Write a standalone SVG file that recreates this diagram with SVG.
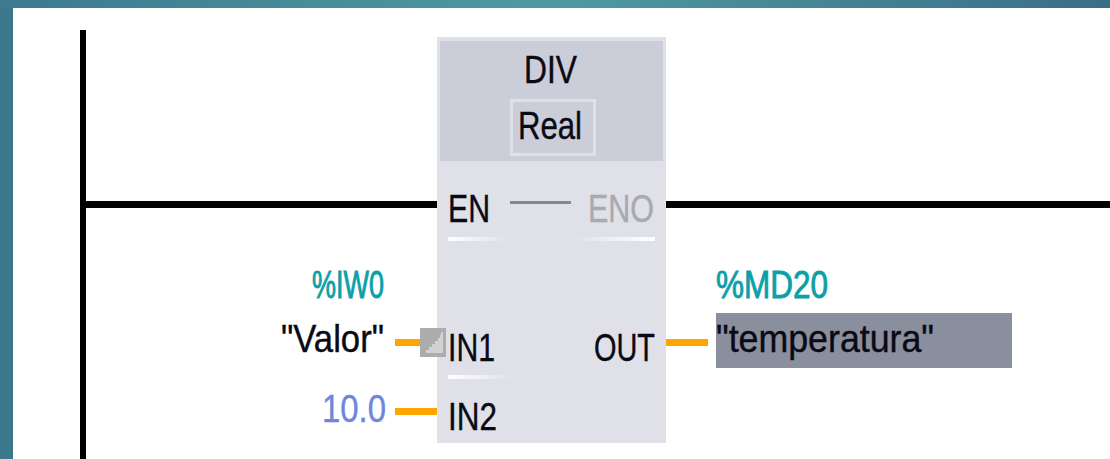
<svg xmlns="http://www.w3.org/2000/svg" width="1110" height="459" viewBox="0 0 1110 459">
<style>
text{font-family:"Liberation Sans",Arial,sans-serif;font-size:38px;fill:#0a0a14;stroke:#0a0a14;stroke-width:.4px}
.teal{fill:#0aa0a8;stroke:#0aa0a8;stroke-width:.9px}
.wire{fill:#000}
.or{fill:#ffa500}
</style>
<defs>
<linearGradient id="bg" x1="0" y1="0" x2="1" y2="0"><stop offset="0" stop-color="#3c7a8e"/><stop offset=".5" stop-color="#4f9aa2"/><stop offset="1" stop-color="#3a6e86"/></linearGradient>
<linearGradient id="fadeR" x1="0" y1="0" x2="1" y2="0"><stop offset="0" stop-color="#fff"/><stop offset="1" stop-color="#fff" stop-opacity="0"/></linearGradient>
<linearGradient id="fadeL" x1="0" y1="0" x2="1" y2="0"><stop offset="0" stop-color="#fff" stop-opacity="0"/><stop offset="1" stop-color="#fff"/></linearGradient>
</defs>
<rect width="1110" height="459" fill="#fff"/>
<rect width="1110" height="8" fill="url(#bg)"/>
<rect y="8" width="13" height="451" fill="#3c788c"/>
<g id="connectors">
<rect class="wire" x="80" y="30" width="6" height="429"/>
<rect class="wire" x="80" y="201" width="357" height="7"/>
<rect class="wire" x="666" y="201" width="444" height="7"/>
<rect class="or" x="395" y="339" width="25" height="7"/>
<rect class="or" x="395" y="408" width="42" height="7"/>
<rect class="or" x="666" y="339" width="42" height="7"/>
</g>
<g id="div-block">
<rect x="437" y="37" width="229" height="406" fill="#dfe0e8"/>
<rect x="440" y="41" width="223" height="120" fill="#cbcdd9"/>
<rect x="511.500" y="100.500" width="83" height="54" fill="none" stroke="#dfe0e8" stroke-width="3"/>
<text x="524" y="83" textLength="53" lengthAdjust="spacingAndGlyphs">DIV</text>
<text x="518" y="139" textLength="64" lengthAdjust="spacingAndGlyphs">Real</text>
<text x="448" y="222" textLength="42" lengthAdjust="spacingAndGlyphs">EN</text>
<rect x="510" y="201" width="61" height="3" fill="#888"/>
<text x="588" y="222" textLength="66" lengthAdjust="spacingAndGlyphs" style="fill:#aaa9ae;stroke:#aaa9ae">ENO</text>
<rect x="448" y="237" width="62" height="4" fill="url(#fadeR)"/>
<rect x="570" y="237" width="85" height="4" fill="url(#fadeL)"/>
<text x="448" y="361" textLength="47" lengthAdjust="spacingAndGlyphs">IN1</text>
<rect x="448" y="375" width="67" height="4" fill="url(#fadeR)"/>
<text x="448" y="430" textLength="49" lengthAdjust="spacingAndGlyphs">IN2</text>
<text x="594" y="361" textLength="61" lengthAdjust="spacingAndGlyphs">OUT</text>
</g>
<g id="in1-marker">
<rect x="420" y="328" width="26" height="29" fill="#acacac"/>
<path d="M426 353V350H429V347H432V344H435V341H438V338H440V335H441V332H443V353Z" fill="#d2d2d2"/>
</g>
<g id="in1-operand">
<text class="teal" x="312" y="298" textLength="72" lengthAdjust="spacingAndGlyphs">%IW0</text>
<text x="281" y="352" textLength="103" lengthAdjust="spacingAndGlyphs">"Valor"</text>
</g>
<g id="in2-operand">
<text x="322" y="422" textLength="64" lengthAdjust="spacingAndGlyphs" style="fill:#6f86dc;stroke:#6f86dc">10.0</text>
</g>
<g id="out-operand">
<text class="teal" x="716" y="298" textLength="112" lengthAdjust="spacingAndGlyphs">%MD20</text>
<rect x="716" y="313" width="296" height="55" fill="#8a8f9e"/>
<text x="716" y="352" textLength="218" lengthAdjust="spacingAndGlyphs">"temperatura"</text>
</g>
</svg>
